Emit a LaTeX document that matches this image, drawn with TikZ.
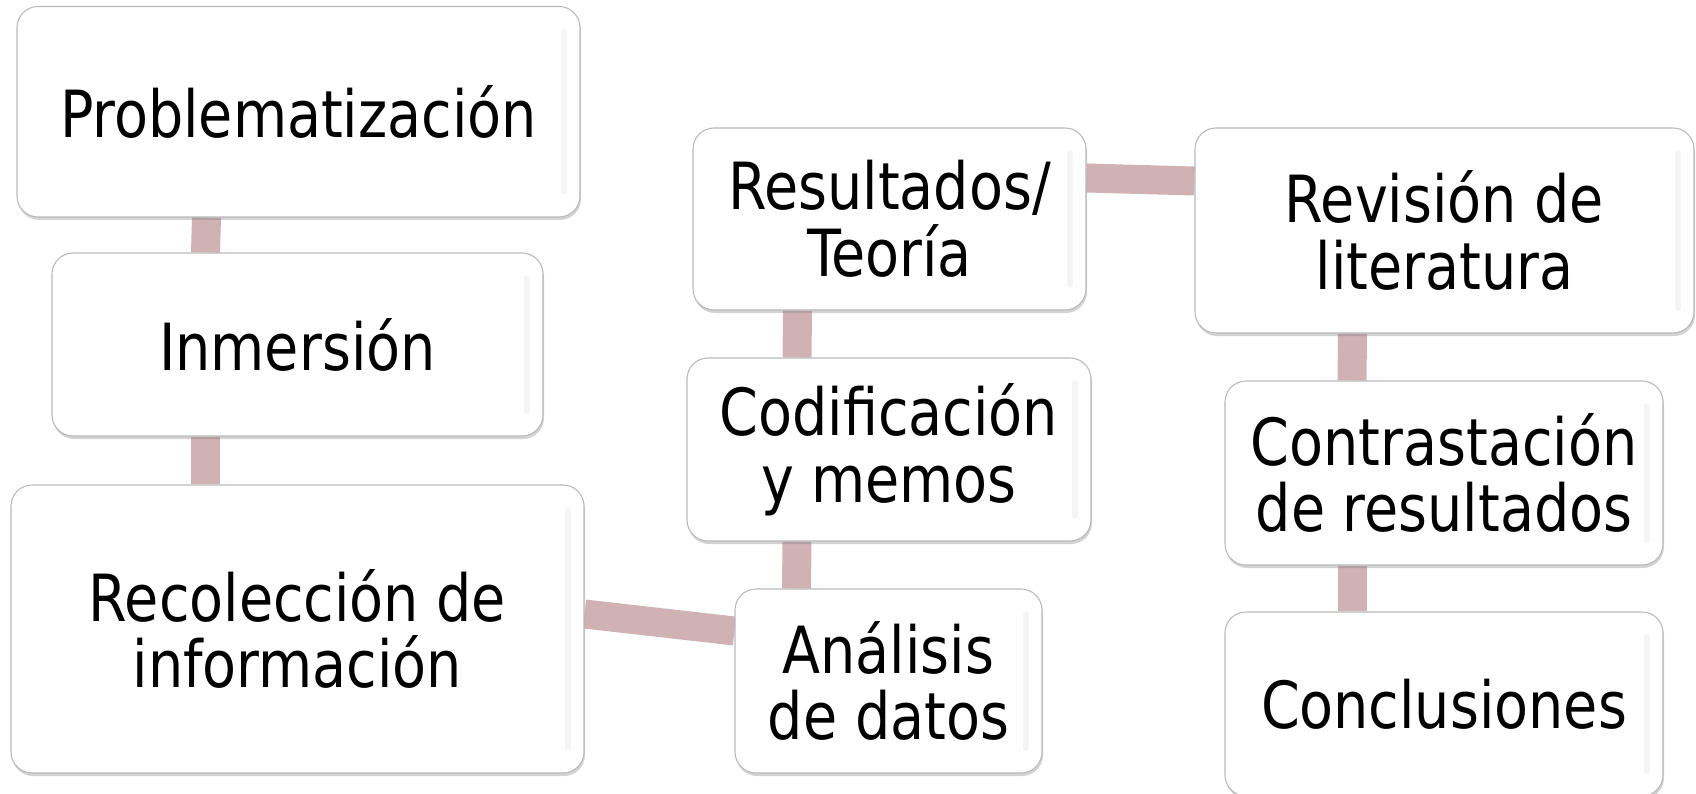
\documentclass[tikz,border=0pt]{standalone}
\usepackage{fontspec}
\setmainfont[FakeStretch=0.95]{DejaVu Sans Condensed}
\usetikzlibrary{shadows,backgrounds}
\definecolor{linkpink}{RGB}{208,178,181}
\tikzstyle{box}=[rectangle, rounded corners=0.42cm, draw=gray!55, fill=white, line width=0.6pt,
  drop shadow={opacity=0.35, shadow xshift=0.02cm, shadow yshift=-0.06cm},
  align=center, inner sep=0pt, font=\fontsize{37}{38}\selectfont,
  path picture={\draw[gray!8, line width=3pt, line cap=round]
    ([xshift=-0.32cm,yshift=-0.5cm]path picture bounding box.north east) --
    ([xshift=-0.32cm,yshift=0.5cm]path picture bounding box.south east);}]
\tikzstyle{link}=[draw, linkpink, line width=0.58cm]

\begin{document}
\begin{tikzpicture}
  \useasboundingbox (0,0) rectangle (33.92,-15.88);

  % The boxes: position / name / width / height / text
  \foreach \pos/\name/\w/\h/\txt in {
      {(5.97,-2.235)/prob/11.26/4.21/{Problematización}},
      {(5.95,-6.89)/inm/9.82/3.66/{Inmersión}},
      {(5.95,-12.58)/rec/11.46/5.76/{Recolección de\\información}},
      {(17.77,-13.62)/ana/6.14/3.68/{Análisis\\de datos}},
      {(17.78,-8.99)/cod/8.08/3.66/{Codificación\\y memos}},
      {(17.79,-4.38)/res/7.86/3.64/{Resultados/\\Teoría}},
      {(28.89,-4.61)/rev/9.98/4.1/{Revisión de\\literatura}},
      {(28.88,-9.46)/con/8.76/3.68/{Contrastación\\de resultados}},
      {(28.88,-14.08)/clu/8.76/3.68/{Conclusiones}}} {
    \node[box, minimum width=\w cm, minimum height=\h cm] (\name) at \pos {\txt};
  }

  \begin{scope}[on background layer]
    % Vertical links, upper box first
    \foreach \upper/\lower in {prob/inm, inm/rec, res/cod, cod/ana, rev/con, con/clu}
      \path[link] ([xshift=-1.84cm]\upper.south) -- ([xshift=-1.84cm]\lower.north);
    \path[link] ([yshift=0.3cm]rec.east) -- ([yshift=1.0cm]ana.west);
    \path[link] ([yshift=0.82cm]res.east) -- ([yshift=0.99cm]rev.west);
  \end{scope}

\end{tikzpicture}
\end{document}
